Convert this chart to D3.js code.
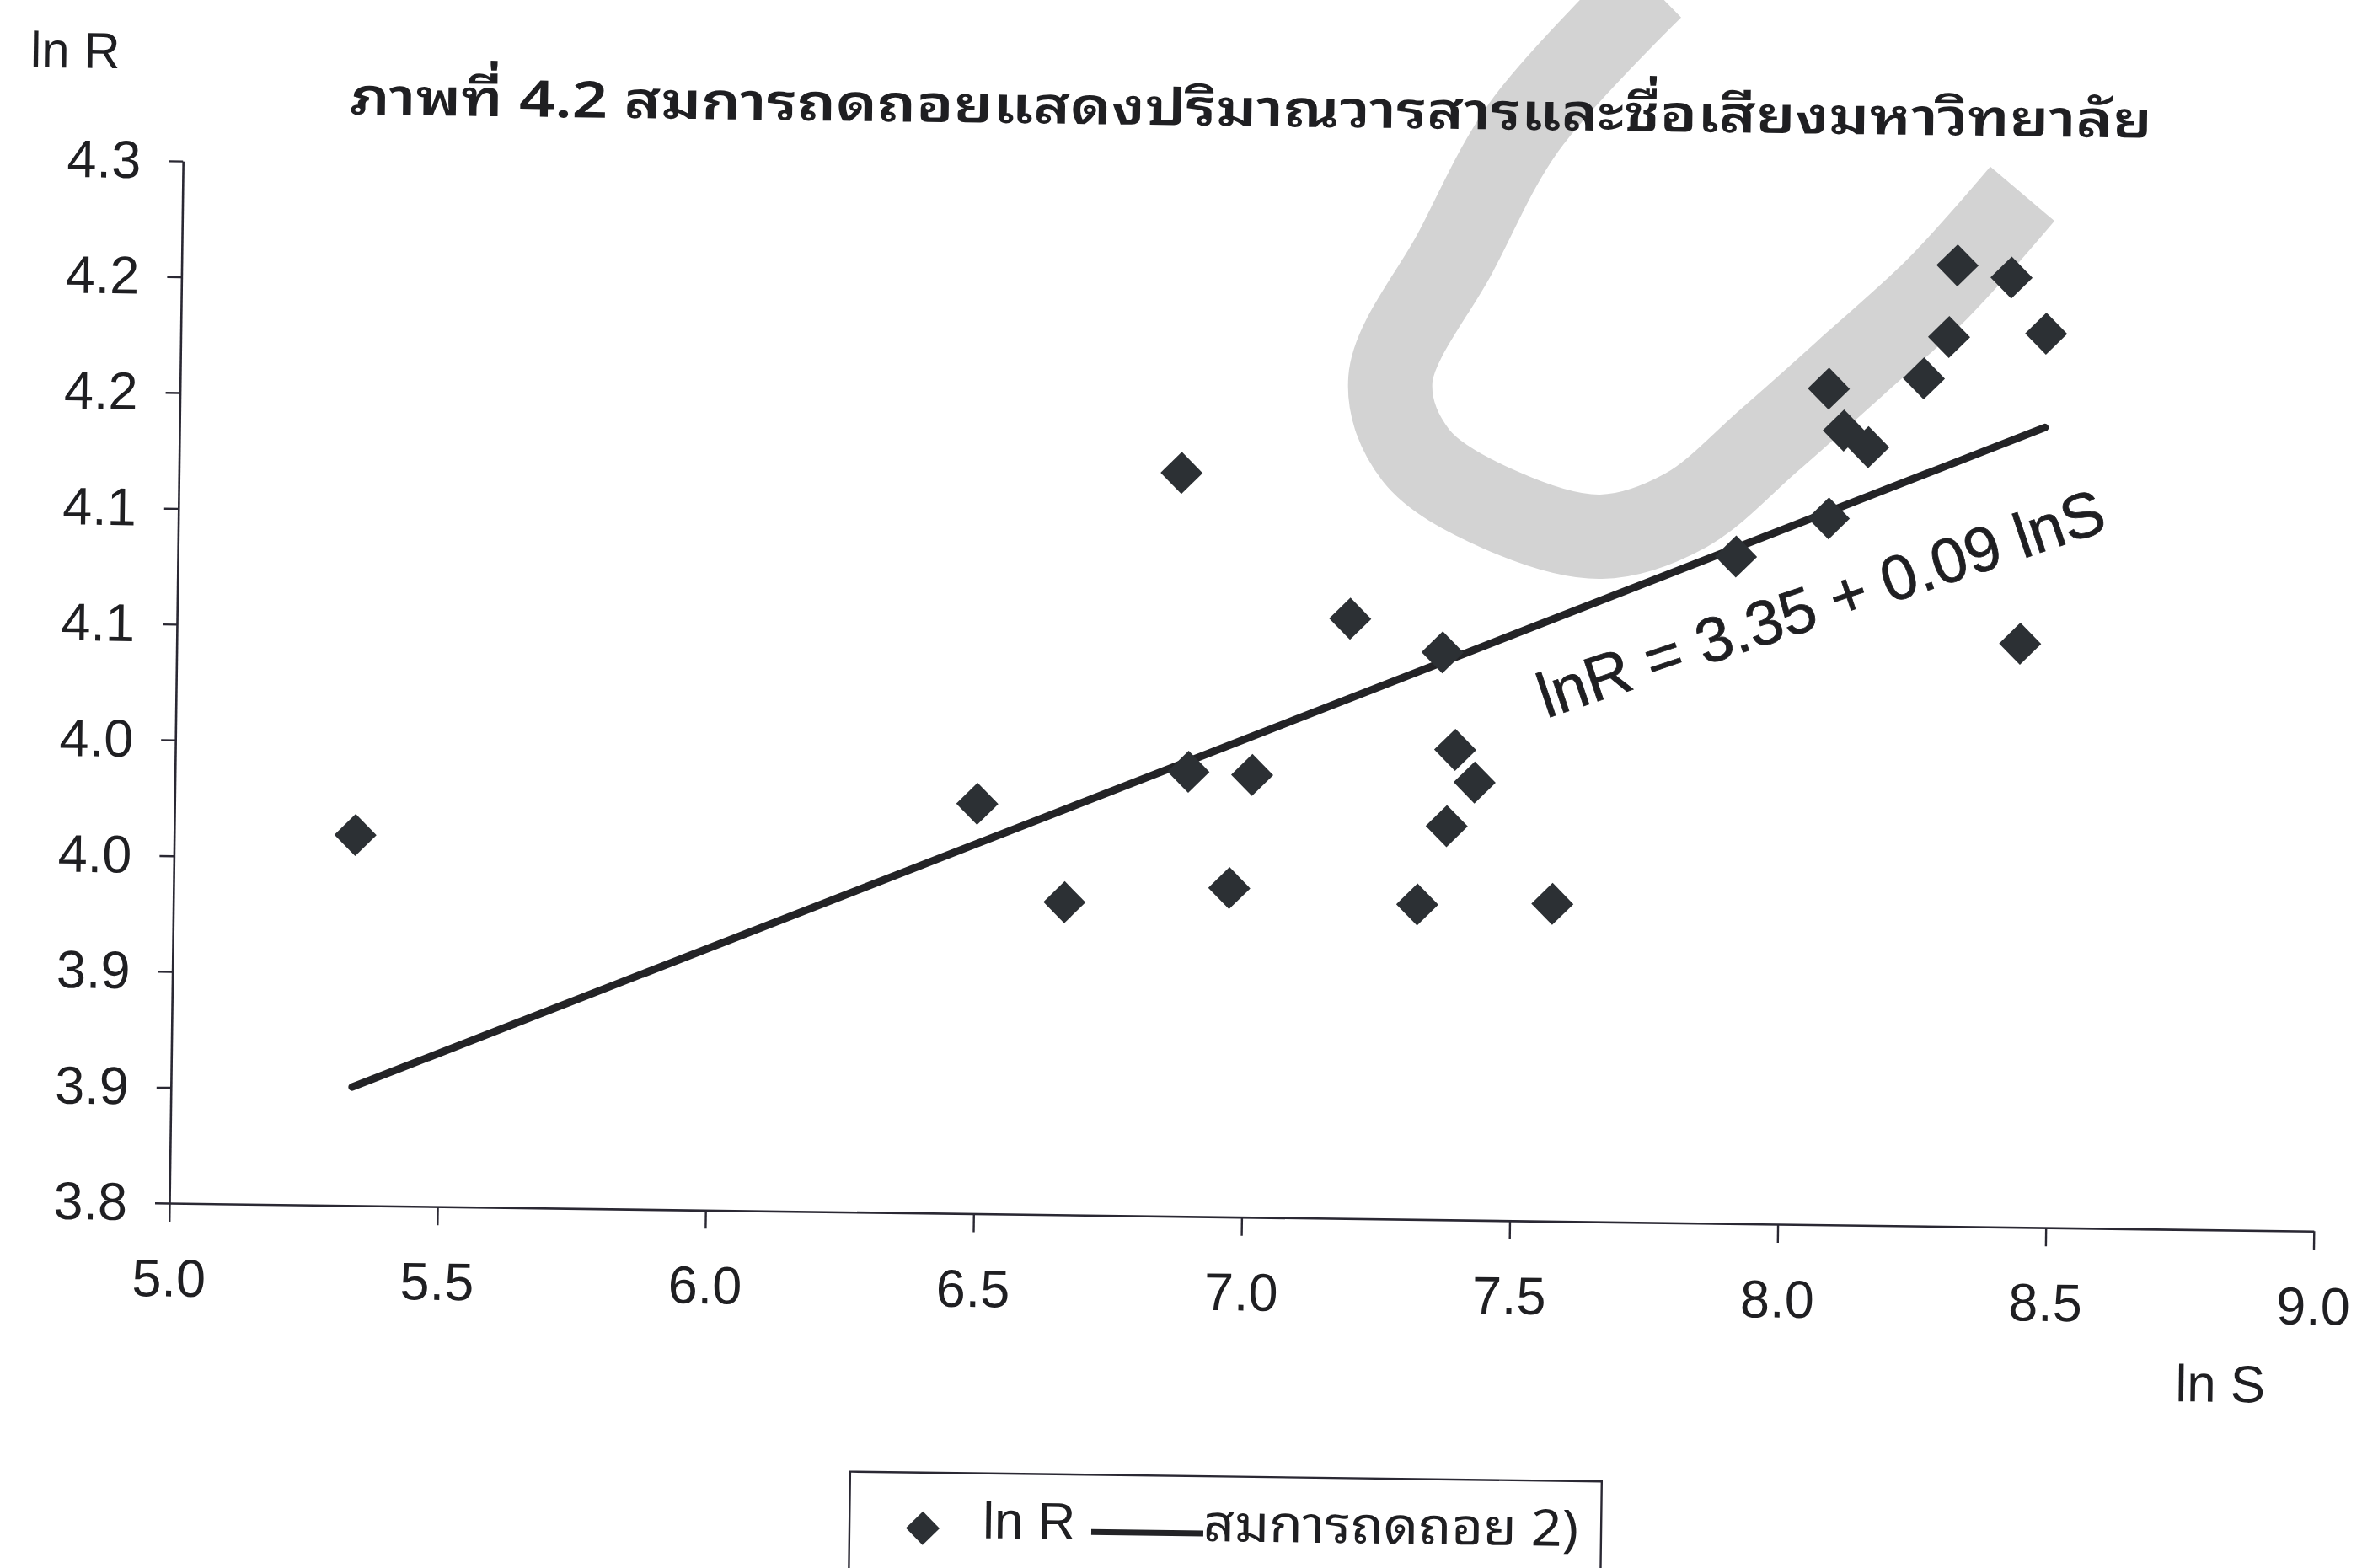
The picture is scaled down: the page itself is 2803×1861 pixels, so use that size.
<!DOCTYPE html>
<html>
<head>
<meta charset="utf-8">
<script src="https://cdn.jsdelivr.net/npm/d3@7"></script>
<style>
  html, body { margin: 0; padding: 0; background: #fff; }
  svg { display: block; }
</style>
</head>
<body>
<svg id="chart" width="2803" height="1861"></svg>
<script>
// ln S (journal volume) and ln R (reputation) for each university
const lnS = [5.338, 6.497, 6.662, 6.870, 6.890, 6.969, 7.009, 7.188, 7.320, 7.361, 7.387, 7.373, 7.424,
             7.572, 7.906, 8.078, 8.075, 8.104, 8.150, 8.252, 8.298, 8.312, 8.413, 8.479, 8.438];
const lnR = [3.960, 3.977, 3.935, 4.121, 3.992, 3.942, 3.991, 4.059, 3.936, 4.045, 4.003, 3.970, 3.989,
             3.937, 4.088, 4.105, 4.161, 4.143, 4.136, 4.166, 4.184, 4.215, 4.210, 4.186, 4.052];

// fitted regression lnR = a + b lnS
const regIntercept = 3.351;
const regSlope = 0.0937;

const xTickValues = [5.0, 5.5, 6.0, 6.5, 7.0, 7.5, 8.0, 8.5, 9.0];
const xTickLabels = ["5.0", "5.5", "6.0", "6.5", "7.0", "7.5", "8.0", "8.5", "9.0"];
const yTickValues = [3.80, 3.85, 3.90, 3.95, 4.00, 4.05, 4.10, 4.15, 4.20, 4.25];
const yTickLabels = ["3.8", "3.9", "3.9", "4.0", "4.0", "4.1", "4.1", "4.2", "4.2", "4.3"];

const titleText = "ภาพที่ 4.2 สมการถดถอยแสดงปริมาณวารสารและชื่อเสียงมหาวิทยาลัย";
const yAxisTitle = "ln R";
const xAxisTitle = "ln S";
const legendLabels = ["ln R", "สมการถดถอย 2)"];

const W = 2803, H = 1861;
const plot = { left: 201, top: 191, right: 2746, bottom: 1428 };
const tilt = 0.75;            // the printed page sits slightly askew
const latin = "'Liberation Sans', Arial, sans-serif";
const thai = "'Noto Sans Thai Looped', 'Loma', 'Garuda', 'Tlwg Typo', 'Noto Sans Thai', 'Noto Sans', sans-serif";
const ink = "#1f1f22";

const svg = d3.select("#chart");
svg.append("rect").attr("width", W).attr("height", H).attr("fill", "#fff");

// light grey stamp band behind the figure
const band = [[1960, -15], [1809, 150], [1727, 300], [1650, 450], [1680, 540], [1780, 605],
              [1900, 637], [2000, 606], [2100, 522], [2200, 433], [2300, 342], [2400, 230]];
svg.append("path")
  .attr("d", d3.line().curve(d3.curveCatmullRom.alpha(0.5))(band))
  .attr("fill", "none")
  .attr("stroke", "#d3d3d3")
  .attr("stroke-width", 100)
  .attr("stroke-linecap", "butt");

const g = svg.append("g")
  .attr("transform", `rotate(${tilt},${plot.left},${plot.bottom})`);

const x = d3.scaleLinear().domain([5, 9]).range([plot.left, plot.right]);
const y = d3.scaleLinear().domain([3.8, 4.25]).range([plot.bottom, plot.top]);

// title
g.append("text")
  .attr("x", 398).attr("y", 133)
  .attr("font-family", thai).attr("font-size", 60).attr("font-weight", 600)
  .attr("fill", ink)
  .attr("textLength", 2139).attr("lengthAdjust", "spacingAndGlyphs")
  .text(titleText);

// axes
const xAxis = d3.axisBottom(x)
  .tickValues(xTickValues)
  .tickFormat((d, i) => xTickLabels[i])
  .tickSize(22).tickSizeOuter(0).tickPadding(44);
const yAxis = d3.axisLeft(y)
  .tickValues(yTickValues)
  .tickFormat((d, i) => yTickLabels[i])
  .tickSize(17).tickSizeOuter(0).tickPadding(33);

const gx = g.append("g").attr("transform", `translate(0,${plot.bottom})`).call(xAxis);
const gy = g.append("g").attr("transform", `translate(${plot.left},0)`).call(yAxis);
[gx, gy].forEach(a => {
  a.select(".domain").attr("stroke", "#2a2833").attr("stroke-width", 2.6);
  a.selectAll(".tick line").attr("stroke", "#2a2833").attr("stroke-width", 2.4);
  a.selectAll(".tick text")
    .attr("font-family", latin).attr("font-size", 63).attr("fill", ink);
});

// axis titles
g.append("text")
  .attr("x", 18).attr("y", 82)
  .attr("font-family", latin).attr("font-size", 60).attr("fill", ink)
  .text(yAxisTitle);
g.append("text")
  .attr("x", 2584).attr("y", 1632)
  .attr("font-family", latin).attr("font-size", 62).attr("fill", ink)
  .text(xAxisTitle);

// regression line over the observed range of ln S
const fit = v => regIntercept + regSlope * v;
const [sMin, sMax] = d3.extent(lnS);
g.append("path")
  .attr("d", d3.line().x(d => x(d)).y(d => y(fit(d)))([sMin, sMax]))
  .attr("fill", "none")
  .attr("stroke", "#232326")
  .attr("stroke-width", 9)
  .attr("stroke-linecap", "round");

// observed points
const diamond = d3.symbol(d3.symbolSquare, 1250);
g.append("g").selectAll("path")
  .data(d3.zip(lnS, lnR))
  .join("path")
  .attr("d", diamond)
  .attr("transform", d => `translate(${x(d[0])},${y(d[1])}) rotate(45)`)
  .attr("fill", "#2c3034");

// equation label
const eqS = 7.556, eqR = 4.017;
g.append("text")
  .attr("transform", `translate(${x(eqS)},${y(eqR)}) rotate(-19.3)`)
  .attr("font-family", latin).attr("font-size", 75).attr("fill", ink)
  .attr("stroke", ink).attr("stroke-width", 0.8)
  .text(`lnR = ${regIntercept.toFixed(2)} + ${regSlope.toFixed(2)} lnS`);

// legend
const lg = g.append("g");
lg.append("rect")
  .attr("x", 1013).attr("y", 1736).attr("width", 892).attr("height", 200)
  .attr("fill", "#fff").attr("stroke", "#2a2833").attr("stroke-width", 2.4);
lg.append("path")
  .attr("d", d3.symbol(d3.symbolSquare, 800))
  .attr("transform", "translate(1100,1802) rotate(45)")
  .attr("fill", "#2c3034");
lg.append("text")
  .attr("x", 1171).attr("y", 1813)
  .attr("font-family", latin).attr("font-size", 62).attr("fill", ink)
  .text(legendLabels[0]);
lg.append("line")
  .attr("x1", 1300).attr("x2", 1433).attr("y1", 1804).attr("y2", 1804)
  .attr("stroke", "#232326").attr("stroke-width", 7);
lg.append("text")
  .attr("x", 1433).attr("y", 1813)
  .attr("font-family", thai).attr("font-size", 60).attr("fill", ink)
  .attr("textLength", 445).attr("lengthAdjust", "spacingAndGlyphs")
  .text(legendLabels[1]);
</script>
</body>
</html>
